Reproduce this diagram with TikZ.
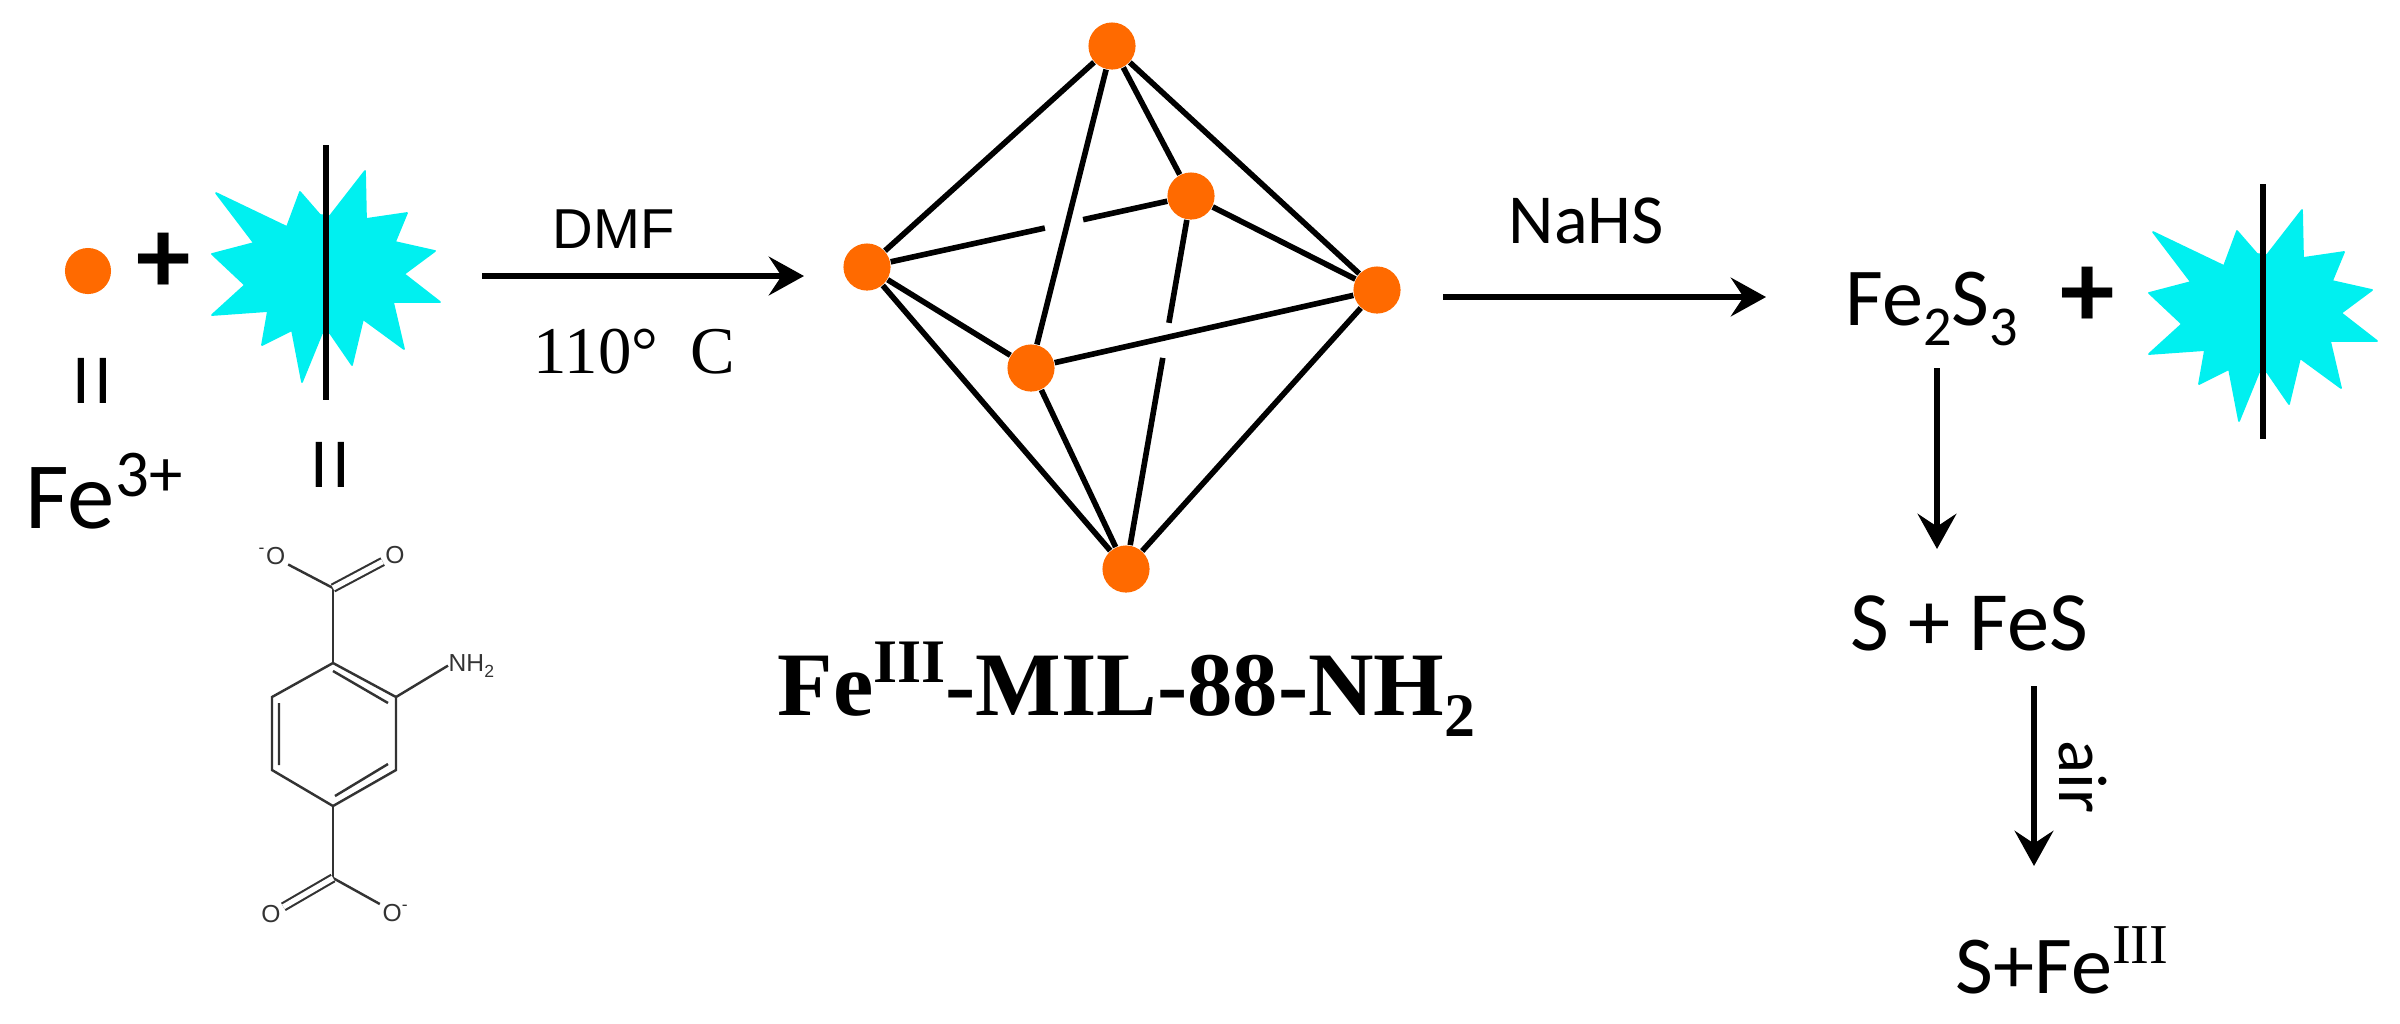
\documentclass[tikz,border=0pt]{standalone}
\usepackage{fontspec}
\setmainfont{Carlito}
\newfontfamily\timesfont{Liberation Serif}
\newfontfamily\arialfont{Liberation Sans}
\usetikzlibrary{arrows.meta, calc}
\definecolor{feorange}{HTML}{FF6A00}
\definecolor{starcyan}{HTML}{00F0F0}
\definecolor{bondgray}{HTML}{333333}
\tikzset{%
	feion/.style={circle, fill=feorange, inner sep=0mm, minimum size=13.1pt},
	vertex/.style={circle, fill=feorange, inner sep=0mm, minimum size=13.4pt},
	strut/.style={line width=1.6pt},
	arr/.style={-{Stealth[length=10pt, width=11pt, inset=3.6pt]}, line width=1.9pt},
	lbl/.style={anchor=base west, inner sep=0mm},
	bond/.style={line width=.7pt, color=bondgray},
	dbond/.style={bond, double, double distance=1.5pt, line width=.6pt},
	atom/.style={inner sep=.6pt, text=bondgray, font=\arialfont\fontsize{7}{8}\selectfont}
}
\newcommand{\linkerstar}[1]{%
	\begin{scope}[shift={#1}]
		\fill[starcyan, draw=starcyan, line width=.5pt, line join=round]
			(-110,193) -- (-39,227) -- (-26,192) -- (-6,215) -- (4,216) -- (39,171)
			-- (40,219) -- (81,213) -- (69,242) -- (109,251) -- (78,274) -- (114,302)
			-- (67,302) -- (78,349) -- (37,319) -- (26,365) -- (4,333) -- (-4,333)
			-- (-24,382) -- (-34,330) -- (-64,345) -- (-58,311) -- (-114,315)
			-- (-81,285) -- (-114,254) -- (-72,243) -- cycle;
		\draw[line width=1.7pt] (0,145) -- (0,400);
	\end{scope}}

\begin{document}
\begin{tikzpicture}[x=.01cm, y=-.01cm]
	\useasboundingbox (0,0) rectangle (2400,1023);

	% reactants
	\node[feion] (ion) at (88,271) {};
	\node[lbl, font=\bfseries\fontsize{31}{36}\selectfont] (plusa) at (136,293) {+};
	\linkerstar{(326,0)}
	\node[lbl, font=\fontsize{20}{24}\selectfont] (eqa) at (72,403) {I\kern1.2pt I};
	\node[lbl, font=\fontsize{20}{24}\selectfont] (eqb) at (310,487) {I\kern1.2pt I};
	\node[lbl, font=\fontsize{27}{32}\selectfont] (fe) at (25,528) {Fe\raisebox{.33em}{\fontsize{19}{22}\selectfont 3+}};

	% linker
	\coordinate (ra) at (333,663);
	\coordinate (rb) at (396,697);
	\coordinate (rc) at (396,770);
	\coordinate (rd) at (333,806);
	\coordinate (re) at (272,770);
	\coordinate (rf) at (272,697);
	\coordinate (ca) at (333,588);
	\coordinate (cb) at (333,878);
	\node[atom] (oa) at (272,556) {\textsuperscript{-}O};
	\node[atom] (ob) at (395,555) {O};
	\node[atom] (oc) at (271,914) {O};
	\node[atom] (od) at (396,913) {O\textsuperscript{-}};
	\node[atom, anchor=base west, inner sep=0mm] (nh) at (448,671) {NH\raisebox{-.25em}{\fontsize{5}{6}\selectfont 2}};
	\draw[bond] (ra) -- (rb) -- (rc) -- (rd) -- (re) -- (rf) -- (ra);
	\draw[bond] (ca) -- (ra) (rd) -- (cb);
	\draw[bond] (oa) -- (ca) (cb) -- (od);
	\draw[dbond] (ca) -- (ob);
	\draw[dbond] (cb) -- (oc);
	\draw[bond] (rb) -- (nh.west);
	\coordinate (ia) at (333,671);
	\coordinate (ib) at (388,703);
	\coordinate (ic) at (388,764);
	\coordinate (id) at (335,796);
	\coordinate (ie) at (279,765);
	\coordinate (if) at (279,703);
	\draw[bond] (ia) -- (ib) (ic) -- (id) (ie) -- (if);

	% first step
	\coordinate (dmfa) at (482,276);
	\coordinate (dmfb) at (804,276);
	\draw[arr] (dmfa) -- (dmfb);
	\node[lbl, font=\arialfont\fontsize{16}{20}\selectfont] (dmf) at (552,248) {DMF};
	\node[lbl, font=\timesfont\fontsize{19}{23}\selectfont] (temp) at (533,373) {110°\hspace{9.3pt}C};

	% octahedron
	\node[vertex] (vt) at (1112,46) {};
	\node[vertex] (vk) at (1191,196) {};
	\node[vertex] (vl) at (867,267) {};
	\node[vertex] (vr) at (1377,290) {};
	\node[vertex] (vf) at (1031,368) {};
	\node[vertex] (vb) at (1126,569) {};
	\draw[strut] (vt) -- (vl);
	\draw[strut] (vt) -- (vf);
	\draw[strut] (vt) -- (vk);
	\draw[strut] (vt) -- (vr);
	\draw[strut] (vl) -- (vf);
	\draw[strut] (vl) -- (vb);
	\draw[strut] (vf) -- (vr);
	\draw[strut] (vf) -- (vb);
	\draw[strut] (vr) -- (vb);
	\draw[strut] (vk) -- (vr);
	\draw[strut] (vl) -- ($(vl)!.549!(vk)$);
	\draw[strut] ($(vl)!.667!(vk)$) -- (vk);
	\draw[strut] (vk) -- ($(vk)!.34!(vb)$);
	\draw[strut] ($(vk)!.434!(vb)$) -- (vb);
	\node[lbl, font=\timesfont\bfseries\fontsize{25.8}{30}\selectfont] (mil) at (777,715)
		{Fe\raisebox{.36em}{\fontsize{17.6}{20}\selectfont III}-MIL-88-NH\raisebox{-.24em}{\fontsize{17.6}{20}\selectfont 2}};

	% second step
	\coordinate (nasa) at (1443,297);
	\coordinate (nasb) at (1766,297);
	\draw[arr] (nasa) -- (nasb);
	\node[lbl, font=\fontsize{20}{24}\selectfont] (nahs) at (1508,243) {NaHS};
	\node[lbl, font=\fontsize{23.4}{28}\selectfont] (fes) at (1845,325) {Fe\raisebox{-5.7pt}{\fontsize{16}{20}\selectfont 2}S\raisebox{-5.7pt}{\fontsize{16}{20}\selectfont 3}};
	\node[lbl, font=\bfseries\fontsize{31}{36}\selectfont] (plusb) at (2060,327) {+};
	\linkerstar{(2263,39)}

	% products
	\coordinate (dna) at (1937,368);
	\coordinate (dnb) at (1937,549);
	\draw[arr] (dna) -- (dnb);
	\node[lbl, font=\fontsize{24}{28}\selectfont] (sfes) at (1850,650) {S + FeS};
	\coordinate (aira) at (2034,686);
	\coordinate (airb) at (2034,866);
	\draw[arr] (aira) -- (airb);
	\node[lbl, rotate=-90, font=\fontsize{19.6}{24}\selectfont] (air) at (2059,740) {air};
	\node[lbl, font=\fontsize{23.4}{28}\selectfont] (sfe) at (1955,993) {S+Fe\raisebox{.36em}{\timesfont\fontsize{16}{20}\selectfont III}};
\end{tikzpicture}
\end{document}
